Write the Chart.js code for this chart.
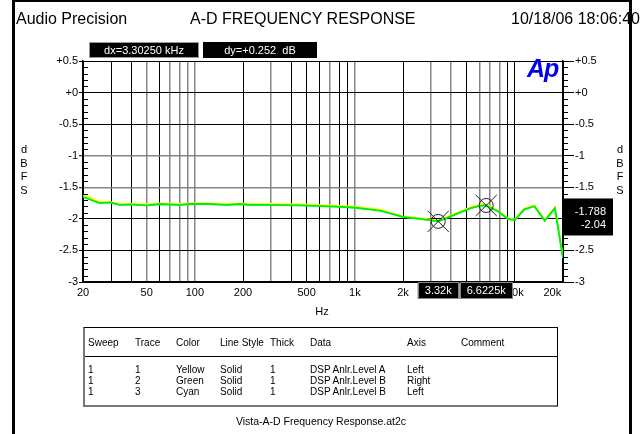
<!DOCTYPE html>
<html>
<head>
<meta charset="utf-8">
<script src="https://cdn.jsdelivr.net/npm/chart.js@4.4.0/dist/chart.umd.min.js"></script>
<style>
  body { margin: 0; background: #fff; font-family: Arial, "Liberation Sans", sans-serif; }
  #page { position: relative; width: 642px; height: 434px; overflow: hidden; background: #fff; }
  #graph { position: absolute; left: 0; top: 0; }
  .t { position: absolute; white-space: nowrap; color: #000; }
  #frame { position: absolute; left: 12px; top: 0; width: 614px; height: 440px;
           border-left: 3px solid #000; border-right: 3px solid #000; border-top: 2px solid #000; }
  .title { top: 9px; font-size: 16px; line-height: 20px; }
  .dbfs { top: 143px; width: 14px; text-align: center; font-size: 11px; line-height: 13.7px; }
  #logo { left: 527px; top: 54px; font: italic bold 25px Arial, "Liberation Sans", sans-serif; color: #0000ee; letter-spacing: -1px; }
  #table { position: absolute; left: 83px; top: 327px; width: 472px; height: 77px;
           border: 1px solid #000; border-left: 2px solid #777; border-bottom: 2px solid #777; }
  #table .t { font-size: 10px; line-height: 12px; }
  #sep { position: absolute; left: 0; right: 0; top: 28px; border-top: 1px solid #000; }
  #footer { left: 0; width: 642px; top: 414px; text-align: center; font-size: 10.5px; line-height: 14px; }
</style>
</head>
<body>
<div id="page">
  <canvas id="graph" width="642" height="434"></canvas>
  <div id="frame"></div>
  <div class="t title" style="left:16px">Audio Precision</div>
  <div class="t title" style="left:190px">A-D FREQUENCY RESPONSE</div>
  <div class="t title" style="right:2px">10/18/06 18:06:40</div>
  <div class="t dbfs" style="left:17px">d<br>B<br>F<br>S</div>
  <div class="t dbfs" style="left:613px">d<br>B<br>F<br>S</div>
  <div class="t" id="logo">Ap</div>
  <div class="t" style="left:302px;width:40px;text-align:center;top:305px;font-size:11px;line-height:13px">Hz</div>
  <div id="table"><div id="sep"></div></div>
  <div class="t" id="footer">Vista-A-D Frequency Response.at2c</div>
</div>
<script>
// sweep frequencies and measured levels (dBFS)
const freqHz = [20, 25.5, 29.5, 34, 39, 50, 60, 80, 93, 124, 158, 191, 220, 295, 474, 770, 980, 1244, 1440,
  2000, 2570, 3320, 4140, 5300, 6110, 6622.5, 7840, 9060, 10000, 11460, 13270, 15380, 17800, 20000];
const levelA = [-1.62, -1.73, -1.73, -1.765, -1.76, -1.77, -1.755, -1.765, -1.755, -1.755, -1.765, -1.755, -1.765,
  -1.765, -1.77, -1.79, -1.805, -1.835, -1.855, -1.96, -1.99, -2.03, -1.93, -1.815, -1.77, -1.775, -1.87, -1.99,
  -2.01, -1.835, -1.785, -2.02, -1.815, -2.61];
const levelB = [-1.65, -1.75, -1.74, -1.78, -1.77, -1.785, -1.765, -1.78, -1.765, -1.765, -1.78, -1.765, -1.78,
  -1.78, -1.785, -1.805, -1.82, -1.85, -1.87, -1.97, -2.0, -2.04, -1.94, -1.83, -1.79, -1.788, -1.88, -2.0,
  -2.02, -1.85, -1.8, -2.03, -1.83, -2.62];

const cursorHz = [3320, 6622.5];
const cursorDb = [-2.04, -1.788];

const xTickHz = [20, 30, 40, 50, 60, 70, 80, 90, 100, 200, 300, 400, 500, 600, 700, 800, 900,
  1000, 2000, 3000, 4000, 5000, 6000, 7000, 8000, 9000, 10000, 20000];
const xLabelHz = [20, 50, 100, 200, 500, 1000, 2000, 5000, 10000, 20000];
const dbTicks = [0.5, 0, -0.5, -1, -1.5, -2, -2.5, -3];
const grayHz = [50, 70, 80, 90, 100, 300, 700, 1000, 3000, 4000, 6000, 7000, 8000];
const grayDb = [-1, -1.5];

const tableHead = ['Sweep', 'Trace', 'Color', 'Line Style', 'Thick', 'Data', 'Axis', 'Comment'];
const tableRows = [
  ['1', '1', 'Yellow', 'Solid', '1', 'DSP Anlr.Level A', 'Left', ''],
  ['1', '2', 'Green', 'Solid', '1', 'DSP Anlr.Level B', 'Right', ''],
  ['1', '3', 'Cyan', 'Solid', '1', 'DSP Anlr.Level B', 'Left', '']
];

const FONT = 'Arial, "Liberation Sans", sans-serif';

// table text
const colX = [3, 50, 91, 135, 185, 225, 322, 376];
const table = document.getElementById('table');
function cell(text, x, y) {
  const d = document.createElement('div');
  d.className = 't';
  d.style.left = x + 'px';
  d.style.top = y + 'px';
  d.textContent = text;
  table.appendChild(d);
}
tableHead.forEach((h, i) => cell(h, colX[i], 9));
tableRows.forEach((r, j) => r.forEach((v, i) => { if (v) cell(v, colX[i], 36 + j * 11); }));

function fmtHz(v) {
  if (v === 20000) return '20k       ';
  return v >= 1000 ? (v / 1000) + 'k' : String(v);
}
function fmtDb(v) {
  return v >= 0 ? '+' + v : String(v);
}

const pts = arr => freqHz.map((f, i) => ({ x: f, y: arr[i] }));
const cursorPts = cursorHz.map((f, i) => ({ x: f, y: cursorDb[i] }));

const minorTicks = {
  id: 'minorTicks',
  afterDraw(chart) {
    const { ctx, chartArea: a } = chart;
    const y = chart.scales.y;
    ctx.save();
    ctx.strokeStyle = '#000';
    ctx.lineWidth = 1;
    ctx.beginPath();
    for (let i = -30; i <= 5; i++) {
      if (i % 5 === 0) continue;
      const py = Math.round(y.getPixelForValue(i / 10)) + 0.5;
      ctx.moveTo(a.left, py); ctx.lineTo(a.left + 5, py);
      ctx.moveTo(a.right, py); ctx.lineTo(a.right + 5, py);
    }
    ctx.stroke();
    ctx.restore();
  }
};

const cursorBoxes = {
  id: 'cursorBoxes',
  afterDraw(chart) {
    const { ctx, chartArea: a } = chart;
    const x = chart.scales.x, y = chart.scales.y;
    ctx.save();
    ctx.font = '11px ' + FONT;
    ctx.textBaseline = 'middle';
    ctx.textAlign = 'center';
    // frequency readouts under the axis
    cursorHz.forEach(f => {
      const px = x.getPixelForValue(f);
      const label = (f / 1000) + 'k';
      const w = ctx.measureText(label).width + 14;
      ctx.fillStyle = '#000';
      ctx.fillRect(px - w / 2, a.bottom, w, 17);
      ctx.strokeStyle = '#888';
      ctx.strokeRect(Math.round(px - w / 2) + 0.5, a.bottom + 0.5, Math.round(w) - 1, 16);
      ctx.fillStyle = '#fff';
      ctx.fillText(label, px, a.bottom + 9);
    });
    // dx / dy boxes above the graph
    const dx = 'dx=' + ((cursorHz[1] - cursorHz[0]) / 1000).toFixed(5) + ' kHz';
    const dyv = cursorDb[1] - cursorDb[0];
    const dy = 'dy=' + (dyv >= 0 ? '+' : '') + dyv.toFixed(3) + '  dB';
    const top = a.top - 19;
    ctx.fillStyle = '#000';
    ctx.fillRect(a.left + 6, top, 110, 16);
    ctx.strokeStyle = '#999';
    ctx.strokeRect(a.left + 6.5, top + 0.5, 109, 15);
    ctx.fillRect(a.left + 120, top, 114, 16);
    ctx.fillStyle = '#fff';
    ctx.fillText(dx, a.left + 61, top + 8.5);
    ctx.fillText(dy, a.left + 177, top + 8.5);
    // level readout on the right axis
    const by = y.getPixelForValue(cursorDb[1]) - 7;
    ctx.fillStyle = '#000';
    ctx.fillRect(a.right, by, 50, 37);
    ctx.fillStyle = '#fff';
    ctx.textAlign = 'right';
    ctx.fillText(String(cursorDb[1]), a.right + 43, by + 13);
    ctx.fillText(String(cursorDb[0]), a.right + 43, by + 26);
    ctx.restore();
  }
};

const tickFont = { family: FONT, size: 11 };
const lineBase = { pointRadius: 0, borderWidth: 1.8, tension: 0, fill: false };

new Chart(document.getElementById('graph'), {
  type: 'line',
  data: {
    datasets: [
      { ...lineBase, label: 'Green', data: pts(levelB), yAxisID: 'yR', borderColor: '#00ee00' },
      { ...lineBase, label: 'Yellow', data: pts(levelA), yAxisID: 'y', borderColor: '#ffff00' },
      { ...lineBase, label: 'Cyan', data: pts(levelB), yAxisID: 'y', borderColor: '#00ffff' },
      { label: 'Cursor', data: cursorPts, yAxisID: 'y', showLine: false, order: -1,
        pointStyle: 'circle', pointRadius: 7, pointBorderColor: '#222', pointBackgroundColor: 'rgba(0,0,0,0)', pointBorderWidth: 1 },
      { label: 'CursorX', data: cursorPts, yAxisID: 'y', showLine: false, order: -1,
        pointStyle: 'crossRot', pointRadius: 15, pointBorderColor: '#222', pointBorderWidth: 1 }
    ]
  },
  options: {
    responsive: false,
    animation: false,
    layout: { padding: { top: 61, bottom: 132, left: 0, right: 0 } },
    plugins: { legend: { display: false }, tooltip: { enabled: false } },
    scales: {
      x: {
        type: 'logarithmic', min: 20, max: 20000,
        afterBuildTicks: s => { s.ticks = xTickHz.map(v => ({ value: v })); },
        afterFit: s => { s.height = 20; },
        ticks: { autoSkip: false, maxRotation: 0, minRotation: 0, padding: 4, color: '#000', font: tickFont,
          callback: v => xLabelHz.includes(v) ? fmtHz(v) : '' },
        grid: { drawTicks: false,
          color: c => grayHz.includes(c.tick.value) ? '#858585' : '#000',
          lineWidth: c => grayHz.includes(c.tick.value) ? 1.5 : 1 },
        border: { color: '#000', width: 1.5 }
      },
      y: {
        position: 'left', min: -3, max: 0.5,
        afterBuildTicks: s => { s.ticks = dbTicks.map(v => ({ value: v })); },
        afterFit: s => { s.width = 83; },
        ticks: { autoSkip: false, padding: 1, color: '#000', font: tickFont, callback: fmtDb },
        grid: { tickLength: 4, tickColor: '#000', tickWidth: 1,
          color: c => grayDb.includes(c.tick.value) ? '#858585' : '#000',
          lineWidth: c => grayDb.includes(c.tick.value) ? 1.5 : 1 },
        border: { color: '#000', width: 1.5 }
      },
      yR: {
        position: 'right', min: -3, max: 0.5,
        afterBuildTicks: s => { s.ticks = dbTicks.map(v => ({ value: v })); },
        afterFit: s => { s.width = 79; },
        ticks: { autoSkip: false, padding: 1, color: '#000', font: tickFont, callback: fmtDb },
        grid: { drawOnChartArea: false, tickLength: 11, tickColor: '#000', tickWidth: 1 },
        border: { color: '#000', width: 1.5 }
      }
    }
  },
  plugins: [minorTicks, cursorBoxes]
});
</script>
</body>
</html>
